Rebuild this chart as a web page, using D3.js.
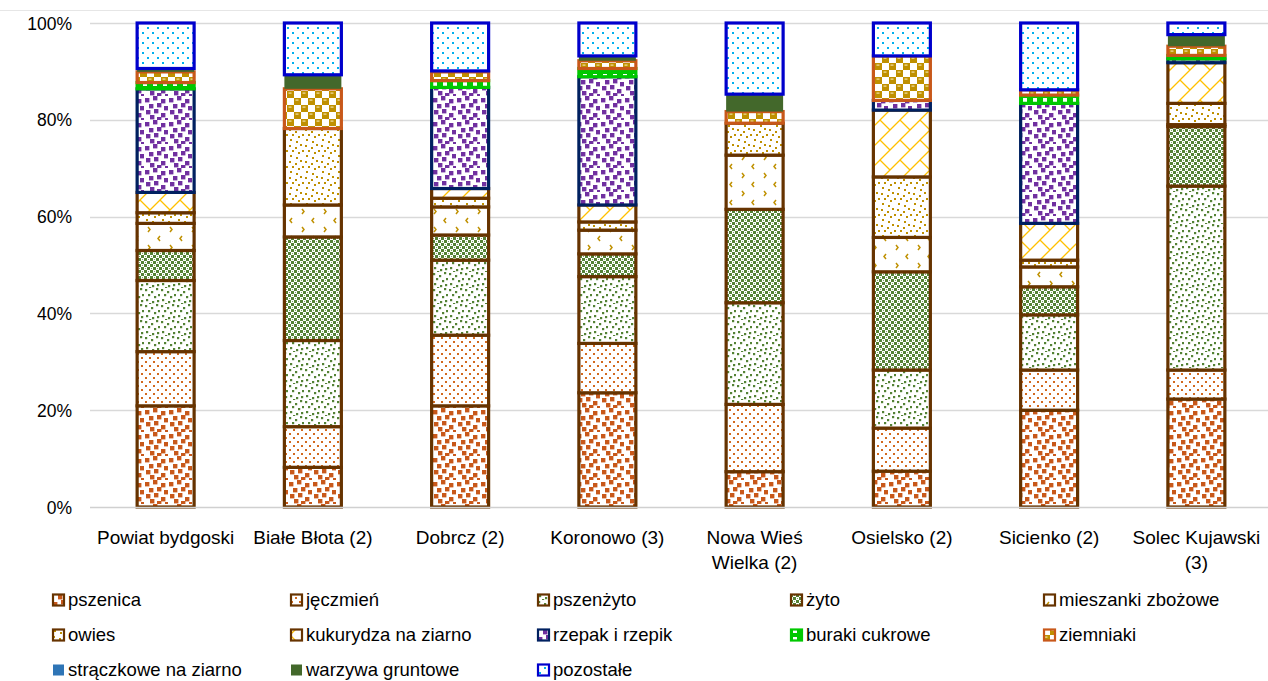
<!DOCTYPE html>
<html>
<head>
<meta charset="utf-8">
<script src="https://cdn.jsdelivr.net/npm/d3@7"></script>
<style>
  body { margin: 0; background: #fff; }
  text { font-family: "Liberation Sans", Arial, sans-serif; fill: #000; }
</style>
</head>
<body>
<svg id="chart" width="1268" height="681"></svg>
<script>
// Gminy of powiat bydgoski (label lines split with \n)
const categories = ["Powiat bydgoski", "Białe Błota (2)", "Dobrcz (2)", "Koronowo (3)",
  "Nowa Wieś\nWielka (2)", "Osielsko (2)", "Sicienko (2)", "Solec Kujawski\n(3)"];

// Share of sown area per crop, % (stacked from the bottom in this order)
const pszenica   = [20.9,  8.2, 20.9, 23.6,  7.3,  7.4, 20.0, 22.3];
const jeczmien   = [11.2,  8.4, 14.6, 10.2, 13.9,  8.9,  8.3,  6.0];
const pszenzyto  = [14.7, 17.8, 15.5, 13.8, 21.0, 12.0, 11.4, 38.0];
const zyto       = [ 6.2, 21.4,  5.2,  4.7, 19.3, 20.3,  5.8, 12.3];
const mieszanki  = [ 5.6,  6.6,  5.8,  4.9, 11.2,  7.1,  4.1,  0.4];
const owies      = [ 2.2, 15.8,  1.8,  1.7,  6.6, 12.5,  1.4,  4.4];
const kukurydza  = [ 4.2,  0.0,  2.0,  3.5,  0.0, 13.8,  7.6,  8.4];
const rzepak     = [21.4,  0.0, 20.9, 26.5,  0.0,  2.0, 24.8,  0.8];
const buraki     = [ 1.3,  0.0,  1.4,  1.7,  0.0,  0.0,  1.7,  0.7];
const ziemniaki  = [ 2.2,  8.2,  1.8,  1.6,  2.4,  9.2,  1.1,  1.9];
const straczkowe = [ 0.0,  0.0,  0.0,  0.0,  0.0,  0.0,  0.0,  0.0];
const warzywa    = [ 0.7,  2.9,  0.2,  1.0,  3.6,  0.0,  0.0,  2.4];
const pozostale  = [ 9.4, 10.7,  9.9,  6.8, 14.7,  6.8, 13.8,  2.4];

const seriesNames = ["pszenica", "jęczmień", "pszenżyto", "żyto", "mieszanki zbożowe", "owies",
  "kukurydza na ziarno", "rzepak i rzepik", "buraki cukrowe", "ziemniaki",
  "strączkowe na ziarno", "warzywa gruntowe", "pozostałe"];
const seriesValues = [pszenica, jeczmien, pszenzyto, zyto, mieszanki, owies, kukurydza,
  rzepak, buraki, ziemniaki, straczkowe, warzywa, pozostale];

const yTicks = [0, 20, 40, 60, 80, 100];

// ---------- drawing ----------
const svg = d3.select("#chart");
const W = 1268, H = 681;
const defs = svg.append("defs");

const BROWN = "#663300", ORANGE = "#C8581A", GREEN = "#548235", GOLD = "#BF9000",
      YELLOW = "#FFC000", PURPLE = "#7030A0", NAVY = "#002060", LIME = "#00C800",
      DKGREEN = "#43682B", SKY = "#00B0F0", BLUE = "#0000CC", STEEL = "#2E75B6";

function pattern(id, w, h, bg, build) {
  const p = defs.append("pattern").attr("id", id).attr("patternUnits", "userSpaceOnUse")
    .attr("width", w).attr("height", h);
  p.append("rect").attr("width", w).attr("height", h).attr("fill", bg);
  build(p);
}
function squares(p, pts, s, color) {
  pts.forEach(([x, y]) => p.append("rect").attr("x", x).attr("y", y)
    .attr("width", s).attr("height", s).attr("fill", color));
}
const bigConfetti = [[1,2],[9,0],[17,3],[5,8],[13,7],[20,10],[2,14],[10,13],[17,17],[6,19],[13,21],[21,22]];
const smallConfetti = [[1,1],[7,3],[12,0],[4,6],[10,8],[14,6],[2,11],[8,13],[13,12],[5,15]];

pattern("p-pszenica", 24, 24, "#fff", p => squares(p, bigConfetti, 4.4, ORANGE));
pattern("p-jeczmien", 8, 8, "#fff", p => squares(p, [[1,1],[5,5]], 2, "#D2691E"));
pattern("p-pszenzyto", 16, 16, "#fff", p => squares(p, smallConfetti, 2.2, GREEN));
pattern("p-zyto", 6, 6, "#fff", p => {
  squares(p, [[0,0],[3,3]], 3, GREEN);
  squares(p, [[1,4],[4,1]], 1, "#7ea565");
});
pattern("p-mieszanki", 22, 18, "#fff", p => {
  p.append("path").attr("d", "M6 2 L4 4.5 L6 7 M16 11 L18 13.5 L16 16")
    .attr("fill", "none").attr("stroke", GOLD).attr("stroke-width", 1.5);
});
pattern("p-owies", 16, 16, "#fff", p => squares(p, smallConfetti.slice(0, 8), 2, GOLD));
pattern("p-kukurydza", 20, 20, "#fff", p => {
  p.append("path").attr("d", "M-2 22 L22 -2 M-2 2 L2 -2 M18 22 L22 18 M0 0 L10 10")
    .attr("fill", "none").attr("stroke", YELLOW).attr("stroke-width", 1.3);
});
pattern("p-rzepak", 24, 24, "#fff", p => squares(p, bigConfetti, 4.4, PURPLE));
pattern("p-buraki", 10, 8, LIME, p => squares(p, [[3,2]], 4, "#fff"));
pattern("p-ziemniaki", 14, 14, "#fff", p => {
  p.append("rect").attr("x", 0).attr("y", 0).attr("width", 7).attr("height", 7).attr("fill", GOLD);
  p.append("rect").attr("x", 7).attr("y", 7).attr("width", 7).attr("height", 7).attr("fill", GOLD);
  p.append("rect").attr("x", 1.5).attr("y", 1.5).attr("width", 3).attr("height", 1.2).attr("fill", "#f3e2a6");
  p.append("rect").attr("x", 8.5).attr("y", 8.5).attr("width", 3).attr("height", 1.2).attr("fill", "#f3e2a6");
});
pattern("p-pozostale", 10, 10, "#fff", p => squares(p, [[2,2],[7,7]], 2, SKY));

// per-series fill and outline
const styles = [
  { fill: "url(#p-pszenica)",   stroke: BROWN },
  { fill: "url(#p-jeczmien)",   stroke: BROWN },
  { fill: "url(#p-pszenzyto)",  stroke: BROWN },
  { fill: "url(#p-zyto)",       stroke: BROWN },
  { fill: "url(#p-mieszanki)",  stroke: BROWN },
  { fill: "url(#p-owies)",      stroke: BROWN },
  { fill: "url(#p-kukurydza)",  stroke: BROWN },
  { fill: "url(#p-rzepak)",     stroke: NAVY },
  { fill: "url(#p-buraki)",     stroke: LIME },
  { fill: "url(#p-ziemniaki)",  stroke: ORANGE },
  { fill: STEEL,                stroke: null },
  { fill: DKGREEN,              stroke: null },
  { fill: "url(#p-pozostale)",  stroke: BLUE }
];

const margin = { left: 92, right: 1270, top: 23, bottom: 507 };
const x = d3.scaleBand().domain(categories).range([margin.left, margin.right])
  .paddingInner(0.613).paddingOuter(0.3065);
const y = d3.scaleLinear().domain([0, 100]).range([margin.bottom, margin.top]);

// chart frame top edge
svg.append("line").attr("x1", 0).attr("x2", W).attr("y1", 10.5).attr("y2", 10.5)
  .attr("stroke", "#E6E6E6");

// gridlines
svg.append("g").selectAll("line").data(yTicks.filter(t => t > 0)).join("line")
  .attr("x1", 90).attr("x2", W).attr("y1", d => Math.round(y(d)) + 0.5).attr("y2", d => Math.round(y(d)) + 0.5)
  .attr("stroke", "#D9D9D9").attr("stroke-width", 1.5);

// y axis labels
const yAxis = d3.axisLeft(y).tickValues(yTicks).tickFormat(d => d + "%").tickSize(0).tickPadding(0);
const yg = svg.append("g").attr("transform", "translate(72,0)").call(yAxis);
yg.select(".domain").remove();
yg.selectAll("text").attr("font-size", 17.5).attr("font-family", '"Liberation Sans", Arial, sans-serif')
  .attr("fill", "#000").attr("dy", "0.35em");

// stacked bars
const rows = categories.map((c, i) => {
  const r = { cat: c };
  seriesNames.forEach((s, k) => r[s] = seriesValues[k][i]);
  return r;
});
const stacked = d3.stack().keys(seriesNames)(rows);
const bw = x.bandwidth();

const layers = svg.append("g").selectAll("g").data(stacked).join("g")
  .attr("fill", (d, i) => styles[i].fill)
  .attr("stroke", (d, i) => styles[i].stroke || "none")
  .attr("stroke-width", 3.2);
layers.selectAll("rect").data(d => d.filter(v => v[1] - v[0] > 0)).join("rect")
  .attr("x", d => x(d.data.cat))
  .attr("width", bw)
  .attr("y", d => y(d[1]))
  .attr("height", d => y(d[0]) - y(d[1]));

// x axis line
svg.append("line").attr("x1", 90).attr("x2", W).attr("y1", y(0) + 0.5).attr("y2", y(0) + 0.5)
  .attr("stroke", "#D0D0D0").attr("stroke-width", 1.5);

// category labels
const xl = svg.append("g").selectAll("text").data(categories).join("text")
  .attr("text-anchor", "middle").attr("font-size", 19)
  .attr("x", d => x(d) + bw / 2).attr("y", 544);
xl.each(function(d) {
  d.split("\n").forEach((line, i) => {
    d3.select(this).append("tspan").attr("x", x(d) + bw / 2).attr("dy", i === 0 ? 0 : 25).text(line);
  });
});

// legend
const legCols = [52, 290, 537, 790, 1043];
const legRows = [600, 635, 670];
const leg = svg.append("g").selectAll("g").data(seriesNames).join("g")
  .attr("transform", (d, i) => `translate(${legCols[i % 5]},${legRows[Math.floor(i / 5)]})`);
leg.append("rect").attr("x", 1).attr("y", -5.5).attr("width", 11).attr("height", 11)
  .attr("fill", (d, i) => styles[i].fill)
  .attr("stroke", (d, i) => styles[i].stroke || "none")
  .attr("stroke-width", 2.2);
leg.append("text").attr("x", 16).attr("y", 0).attr("dy", "0.35em").attr("font-size", 18.5).text(d => d);
</script>
</body>
</html>
